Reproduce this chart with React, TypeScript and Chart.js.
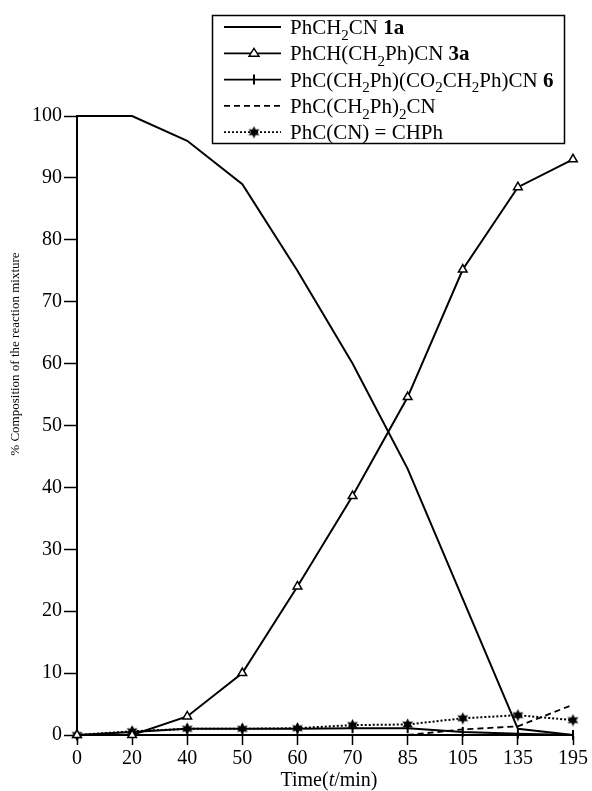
import React, { useEffect, useRef } from "react";
import { Chart, registerables } from "chart.js";

Chart.register(...registerables);

// ---- data ----
const timeLabels = ["0", "20", "40", "50", "60", "70", "85", "105", "135", "195"];
const series1a = [100, 100, 96, 89, 75, 60, 43, 22, 1, 0];
const series3a = [0, 0, 3, 10, 24, 38.6, 54.6, 75.2, 88.5, 93];
const series6 = [0, 0.5, 1, 1, 1, 1.1, 1.1, 0.5, 0.2, 0];
const seriesDibenzyl = [null, null, null, null, null, null, 0, 0.9, 1.4, 4.9];
const seriesStilbene = [0, 0.6, 1, 1, 1.1, 1.6, 1.7, 2.7, 3.2, 2.4];

const yMin = 0;
const yMax = 100;
const yStep = 10;

const yTitle = "% Composition of the reaction mixture";
const xTitleParts: [string, string][] = [
  ["Time(", "n"],
  ["t", "i"],
  ["/min)", "n"],
];

// legend labels with styles: n normal, s subscript, b bold
const legend1a: [string, string][] = [["PhCH", "n"], ["2", "s"], ["CN ", "n"], ["1a", "b"]];
const legend3a: [string, string][] = [["PhCH(CH", "n"], ["2", "s"], ["Ph)CN ", "n"], ["3a", "b"]];
const legend6: [string, string][] = [
  ["PhC(CH", "n"], ["2", "s"], ["Ph)(CO", "n"], ["2", "s"], ["CH", "n"], ["2", "s"], ["Ph)CN ", "n"], ["6", "b"],
];
const legendDibenzyl: [string, string][] = [["PhC(CH", "n"], ["2", "s"], ["Ph)", "n"], ["2", "s"], ["CN", "n"]];
const legendStilbene: [string, string][] = [["PhC(CN) = CHPh", "n"]];

const FONT = "'Liberation Serif', 'Times New Roman', serif";

const plainText = (segs: [string, string][]) => segs.map((s) => s[0]).join("");

function makeStar(): HTMLCanvasElement {
  const c = document.createElement("canvas");
  c.width = 13;
  c.height = 13;
  const g = c.getContext("2d")!;
  g.fillStyle = "#000";
  g.beginPath();
  const cx = 6.5, cy = 6.5, ro = 6.2, ri = 3.2;
  for (let i = 0; i < 12; i++) {
    const r = i % 2 === 0 ? ro : ri;
    const a = -Math.PI / 2 + (i * Math.PI) / 6;
    const px = cx + r * Math.cos(a);
    const py = cy + r * Math.sin(a);
    if (i === 0) g.moveTo(px, py);
    else g.lineTo(px, py);
  }
  g.closePath();
  g.fill();
  return c;
}

function drawRich(ctx: CanvasRenderingContext2D, segs: [string, string][], x: number, y: number, size: number, align: "left" | "center" = "left") {
  const fontFor = (st: string) =>
    st === "b" ? `bold ${size}px ${FONT}` : st === "s" ? `${Math.round(size * 0.72)}px ${FONT}` : st === "i" ? `italic ${size}px ${FONT}` : `${size}px ${FONT}`;
  let total = 0;
  for (const [t, st] of segs) {
    ctx.font = fontFor(st);
    total += ctx.measureText(t).width;
  }
  let cx = align === "center" ? x - total / 2 : x;
  ctx.textAlign = "left";
  ctx.textBaseline = "alphabetic";
  for (const [t, st] of segs) {
    ctx.font = fontFor(st);
    ctx.fillText(t, cx, y + (st === "s" ? size * 0.28 : 0));
    cx += ctx.measureText(t).width;
  }
}

export default function App() {
  const ref = useRef<HTMLCanvasElement>(null);

  useEffect(() => {
    if (!ref.current) return;
    const star = makeStar();

    const legendRows = [
      { segs: legend1a, dash: [] as number[], marker: "none" },
      { segs: legend3a, dash: [], marker: "triangle" },
      { segs: legend6, dash: [], marker: "bar" },
      { segs: legendDibenzyl, dash: [6, 4], marker: "none" },
      { segs: legendStilbene, dash: [2, 2], marker: "star" },
    ];

    const overlay = {
      id: "overlay",
      afterDraw(chart: any) {
        const ctx: CanvasRenderingContext2D = chart.ctx;
        ctx.save();
        ctx.fillStyle = "#000";
        ctx.strokeStyle = "#000";
        // legend box
        ctx.lineWidth = 1.5;
        ctx.setLineDash([]);
        ctx.strokeRect(212.5, 15.5, 352, 128);
        legendRows.forEach((row, i) => {
          const cy = 27 + i * 26.3;
          ctx.save();
          ctx.lineWidth = 1.8;
          ctx.setLineDash(row.dash);
          ctx.beginPath();
          ctx.moveTo(224, cy);
          ctx.lineTo(281, cy);
          ctx.stroke();
          ctx.restore();
          const mx = 254;
          if (row.marker === "triangle") {
            ctx.save();
            ctx.fillStyle = "#fff";
            ctx.lineWidth = 1.4;
            ctx.beginPath();
            ctx.moveTo(mx, cy - 5);
            ctx.lineTo(mx + 5, cy + 3);
            ctx.lineTo(mx - 5, cy + 3);
            ctx.closePath();
            ctx.fill();
            ctx.stroke();
            ctx.restore();
          } else if (row.marker === "bar") {
            ctx.save();
            ctx.lineWidth = 2;
            ctx.beginPath();
            ctx.moveTo(mx, cy - 5);
            ctx.lineTo(mx, cy + 5);
            ctx.stroke();
            ctx.restore();
          } else if (row.marker === "star") {
            ctx.drawImage(star, mx - 6.5, cy - 6.5);
          }
          drawRich(ctx, row.segs, 290, cy + 7, 21);
        });
        // x title
        drawRich(ctx, xTitleParts, 329, 786, 20, "center");
        // y title
        ctx.save();
        ctx.translate(16, 354);
        ctx.rotate(-Math.PI / 2);
        ctx.font = `13px ${FONT}`;
        ctx.textAlign = "center";
        ctx.textBaseline = "middle";
        ctx.fillText(yTitle, 0, 0);
        ctx.restore();
        ctx.restore();
      },
    };

    const chart = new Chart(ref.current, {
      type: "line",
      data: {
        labels: timeLabels,
        datasets: [
          {
            label: plainText(legend1a),
            data: series1a,
            borderColor: "#000",
            borderWidth: 2,
            pointRadius: 0,
            tension: 0,
            clip: false as any,
          },
          {
            label: plainText(legend3a),
            data: series3a,
            borderColor: "#000",
            borderWidth: 2,
            pointStyle: "triangle",
            pointRadius: 5,
            pointBackgroundColor: "#fff",
            pointBorderColor: "#000",
            pointBorderWidth: 1.5,
            tension: 0,
            clip: false as any,
          },
          {
            label: plainText(legend6),
            data: series6,
            borderColor: "#000",
            borderWidth: 2,
            pointStyle: "line",
            pointRotation: 90,
            pointRadius: 5,
            pointBorderColor: "#000",
            pointBorderWidth: 2,
            tension: 0,
            clip: false as any,
          },
          {
            label: plainText(legendDibenzyl),
            data: seriesDibenzyl as any,
            borderColor: "#000",
            borderWidth: 1.8,
            borderDash: [6, 4],
            pointRadius: 0,
            tension: 0,
            clip: false as any,
          },
          {
            label: plainText(legendStilbene),
            data: seriesStilbene,
            borderColor: "#000",
            borderWidth: 2,
            borderDash: [2, 2],
            pointStyle: star as any,
            pointRadius: 6,
            tension: 0,
            clip: false as any,
          },
        ],
      },
      options: {
        animation: false,
        responsive: false,
        devicePixelRatio: 1,
        layout: { padding: { left: 0, right: 19, top: 116, bottom: 0 } },
        plugins: {
          legend: { display: false },
          tooltip: { enabled: false },
          title: { display: false },
        },
        scales: {
          x: {
            type: "category",
            offset: false,
            border: { display: true, color: "#000", width: 2 },
            grid: {
              display: true,
              drawOnChartArea: false,
              drawTicks: true,
              tickLength: 10,
              tickWidth: 1.5,
              tickColor: "#000",
            },
            ticks: {
              color: "#000",
              font: { family: FONT, size: 20 },
              padding: 2,
              maxRotation: 0,
              autoSkip: false,
            },
            afterFit(scale: any) {
              scale.height = 56;
            },
          },
          y: {
            min: yMin,
            max: yMax,
            border: { display: true, color: "#000", width: 2 },
            grid: {
              display: true,
              drawOnChartArea: false,
              drawTicks: true,
              tickLength: 13,
              tickWidth: 1.5,
              tickColor: "#000",
            },
            ticks: {
              stepSize: yStep,
              color: "#000",
              font: { family: FONT, size: 20 },
              padding: 2,
            },
            afterFit(scale: any) {
              scale.width = 77;
            },
          },
        },
      },
      plugins: [overlay],
    });

    return () => chart.destroy();
  }, []);

  return (
    <div style={{ position: "absolute", left: 0, top: 0, width: 592, height: 791, background: "#fff" }}>
      <canvas ref={ref} width={592} height={791} style={{ width: 592, height: 791, display: "block" }} />
    </div>
  );
}
